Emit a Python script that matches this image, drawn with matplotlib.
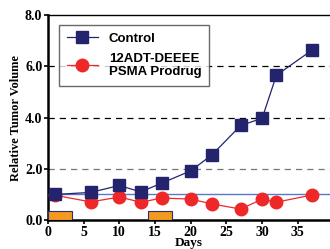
import matplotlib
matplotlib.use("Agg")
import matplotlib.pyplot as plt

days = [1, 6, 10, 13, 16, 20, 23, 27, 30, 32, 37]
control = [1.0, 1.08, 1.35, 1.1, 1.45, 1.92, 2.55, 3.69, 3.97, 5.65, 6.63]
prodrug = [0.97, 0.71, 0.9, 0.7, 0.86, 0.82, 0.63, 0.43, 0.82, 0.7, 0.98]
dose_start = [0, 14]
dose_width = [3.4, 3.4]
dose_height = 0.35

fig = plt.figure(figsize=(3.3, 2.49), dpi=100)
ax = fig.add_axes([0.145, 0.116, 0.855, 0.824])

for y, c in [(2, "#777777"), (4, "black"), (6, "black")]:
    ax.axhline(y, color=c, ls=(0, (5, 4)), lw=0.9, zorder=1)
ax.axhline(1.0, color="#5b78c8", lw=1.0, zorder=2)

ax.bar(dose_start, [dose_height] * 2, width=dose_width, align="edge",
       color="#f39a1e", edgecolor="#2a2f7a", lw=0.8, zorder=3)

ax.plot(days, control, "-s", color="#23236e", ms=8, lw=0.9, label="Control", zorder=5)
ax.plot(days, prodrug, "-o", color="#ee2828", ms=9, lw=0.9,
        label="12ADT-DEEEE\nPSMA Prodrug", zorder=4)

ax.set_xlim(0, 39.5)
ax.set_ylim(0, 8)
ax.set_xticks([0, 5, 10, 15, 20, 25, 30, 35])
ax.set_yticks([0, 2, 4, 6, 8])
ax.set_yticklabels(["0.0", "2.0", "4.0", "6.0", "8.0"])
for lab in ax.get_xticklabels() + ax.get_yticklabels():
    lab.set_family("Liberation Serif")
    lab.set_fontweight("bold")
    lab.set_fontsize(10)
ax.tick_params(axis="both", length=3, width=1.2, pad=1)
ax.spines["right"].set_visible(False)
for s in ["left", "bottom"]:
    ax.spines[s].set_linewidth(1.8)
ax.spines["top"].set_linewidth(1.0)

ax.set_xlabel("Days", family="Liberation Serif", fontweight="bold", fontsize=9.5, labelpad=-1)
ax.set_ylabel("Relative Tumor Volume", family="Liberation Serif", fontweight="bold",
              fontsize=9, labelpad=2)

leg = ax.legend(loc="upper left", bbox_to_anchor=(0.015, 0.985), fancybox=False,
                edgecolor="#444444", prop={"family": "Liberation Sans", "weight": "bold", "size": 9.5},
                handlelength=2.4, borderpad=0.6, labelspacing=0.6, handletextpad=0.8)
leg.get_frame().set_linewidth(1.0)
leg.set_zorder(10)

fig.savefig("out.png", dpi=100)
